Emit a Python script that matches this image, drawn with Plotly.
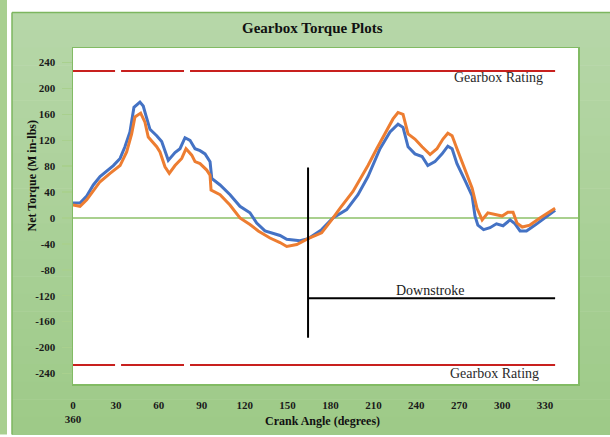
import plotly.graph_objects as go

# ---------------- data ----------------
blue_deg = [0, 4.9, 9.6, 14.2, 18.9, 23.6, 28.2, 32.9, 36.3, 39.8, 42.6, 46.8, 49.1, 51.0, 53.8, 58.5,
            62.0, 66.6, 71.3, 74.8, 78.3, 81.8, 85.3, 88.8, 92.3, 95.8, 97.0, 102.8, 109.8, 116.7,
            123.7, 128.4, 134.2, 144.7, 149.4, 158.7, 164.3, 173.8, 181.7, 191.3, 199.2, 206.2,
            214.6, 221.6, 227.2, 230.7, 234.2, 239, 244, 248, 253, 258, 262, 265, 268.4, 274, 279,
            281, 283, 287, 291.5, 296, 300.6, 305.5, 309, 312.5, 317, 323, 330, 337]
blue_val = [23, 23, 34, 51, 64, 72, 81, 92, 110, 133, 171, 179, 173, 158, 137, 127,
            118, 89, 101, 107, 124, 120, 107, 104, 99, 87, 61, 51, 36, 18,
            8, -8, -20, -27, -33, -35, -32, -18, 0, 13, 36, 64,
            107, 133, 145, 140, 110, 99, 95, 81, 87, 99, 111, 107, 84, 58, 34,
            3, -11, -18, -15, -9, -12, -3, -9, -20, -20, -11, 0, 12]

orange_deg = [0, 4.9, 9.6, 14.2, 18.9, 25.9, 32.9, 37.5, 41.0, 43.3, 47.3, 50.3, 52.6, 58.5, 60.8,
              64.3, 67.3, 71.3, 76.0, 79.0, 83.0, 85.3, 88.8, 93.5, 95.8, 96.5, 102.8, 109.7, 116.7,
              123.7, 129.5, 137.7, 144.7, 149.4, 156.4, 164.3, 173.8, 180.8, 186.6, 195.7, 206.2,
              212.3, 218, 223.7, 227.2, 230.7, 234.2, 239, 244, 249.6, 254.4, 258.6, 262, 265,
              268.4, 274, 279, 282.4, 286, 290, 295, 300, 304, 307.6, 310.4, 314, 319.4, 326.4, 337]
orange_val = [20, 18, 28, 41, 56, 69, 81, 102, 130, 156, 162, 148, 125, 110, 102,
              79, 69, 81, 92, 107, 97, 87, 84, 74, 66, 43, 36, 20, 0,
              -10, -20, -31, -38, -44, -41, -32, -23, -3, 15, 41, 81,
              107, 130, 153, 163, 160, 130, 122, 110, 98, 107, 122, 131, 127,
              107, 76, 46, 15, -3, 8, 6, 3, 9, 9, -8, -14, -11, 0, 15]

x_tick_vals = [0, 30, 60, 90, 120, 150, 180, 210, 240, 270, 300, 330]
x_tick_text = ["0<br>360", "30", "60", "90", "120", "150", "180", "210", "240", "270", "300", "330"]
y_tick_vals = [240, 200, 160, 120, 80, 40, 0, -40, -80, -120, -160, -200, -240]
y_tick_text = ["240", "200", "160", "120", "80", "40", "0", "-40", "-80", "-120", "-160", "-200", "-240"]

rating_value = 227
rating_deg = [0, 29.4, None, 33.6, 77.6, None, 81.8, 337]
downstroke_start = 164.3
downstroke_end = 337
downstroke_level = -124
downstroke_vert = [78, -185]

# ---------------- layout geometry ----------------
W, H = 610, 437
L, R, T, B = 73, 32, 48, 49
PW, PH = W - L - R, H - T - B
X_RANGE = [0, 353]
Y_RANGE = [-256.5, 262.6]


def pxx(px):
    return (px - L) / PW


def pxy(py):
    return (H - B - py) / PH


SERIF = "Liberation Serif, Times New Roman, serif"

fig = go.Figure()

fig.add_trace(go.Scatter(x=blue_deg, y=blue_val, mode="lines",
                         line=dict(color="#4472c4", width=3), showlegend=False, hoverinfo="skip"))
fig.add_trace(go.Scatter(x=orange_deg, y=orange_val, mode="lines",
                         line=dict(color="#ed7d31", width=3), showlegend=False, hoverinfo="skip"))

# gearbox rating lines
for sgn in (1, -1):
    fig.add_trace(go.Scatter(x=rating_deg, y=[None if d is None else sgn * rating_value for d in rating_deg],
                             mode="lines", line=dict(color="#c8201e", width=2),
                             showlegend=False, hoverinfo="skip", connectgaps=False))

# downstroke lines
fig.add_trace(go.Scatter(x=[downstroke_start, downstroke_start], y=downstroke_vert, mode="lines",
                         line=dict(color="black", width=2), showlegend=False, hoverinfo="skip"))
fig.add_trace(go.Scatter(x=[downstroke_start, downstroke_end], y=[downstroke_level, downstroke_level],
                         mode="lines", line=dict(color="black", width=2), showlegend=False, hoverinfo="skip"))

# ---------------- background shapes ----------------
shapes = []
# left strip
shapes.append(dict(type="rect", xref="paper", yref="paper", layer="below",
                   x0=pxx(0), x1=pxx(7), y0=pxy(H + 2), y1=pxy(-2),
                   fillcolor="#a8cf90", line=dict(width=0)))
# panel gradient bands
N = 24
top_c = (182, 215, 168)
bot_c = (158, 202, 136)
y_top, y_bot = 12, H + 2
for i in range(N):
    f = i / (N - 1)
    c = tuple(round(top_c[k] + (bot_c[k] - top_c[k]) * f) for k in range(3))
    a = y_top + (y_bot - y_top) * i / N
    b = y_top + (y_bot - y_top) * (i + 1) / N + 0.5
    shapes.append(dict(type="rect", xref="paper", yref="paper", layer="below",
                       x0=pxx(12), x1=pxx(W + 2), y0=pxy(b), y1=pxy(a),
                       fillcolor="rgb(%d,%d,%d)" % c, line=dict(width=0)))
# panel border (top & left)
shapes.append(dict(type="line", xref="paper", yref="paper", layer="below",
                   x0=pxx(12), x1=pxx(W + 2), y0=pxy(12), y1=pxy(12),
                   line=dict(color="#7db65f", width=1.5)))
shapes.append(dict(type="line", xref="paper", yref="paper", layer="below",
                   x0=pxx(12), x1=pxx(12), y0=pxy(12), y1=pxy(H + 2),
                   line=dict(color="#7db65f", width=1.5)))
# white plot area
shapes.append(dict(type="rect", xref="paper", yref="paper", layer="below",
                   x0=0, x1=1, y0=0, y1=1, fillcolor="white", line=dict(width=0)))
fig.update_layout(shapes=shapes)

# ---------------- annotations ----------------
ann = [
    dict(text="<b>Gearbox Torque Plots</b>", x=pxx(312), y=pxy(28), font=dict(size=15, family=SERIF, color="#111")),
    dict(text="<b>Net Torque (M in-lbs)</b>", x=pxx(32), y=pxy(178), textangle=-90,
         font=dict(size=12, family=SERIF, color="#111")),
    dict(text="<b>Crank Angle (degrees)</b>", x=pxx(322), y=pxy(425), font=dict(size=12, family=SERIF, color="#111")),
    dict(text="Gearbox Rating", x=pxx(498), y=pxy(78), font=dict(size=14, family=SERIF, color="#2a2a2a")),
    dict(text="Gearbox Rating", x=pxx(494), y=pxy(377), font=dict(size=14, family=SERIF, color="#2a2a2a")),
    dict(text="Downstroke", x=pxx(430), y=pxy(293), font=dict(size=14, family=SERIF, color="#1a1a1a")),
]
for a in ann:
    a.update(xref="paper", yref="paper", showarrow=False, xanchor="center", yanchor="middle")
fig.update_layout(annotations=ann)

tick_col = "#a9d08e"
frame_col = "#82bb64"

fig.update_layout(
    width=W, height=H,
    margin=dict(l=L, r=R, t=T, b=B),
    paper_bgcolor="white",
    plot_bgcolor="white",
    xaxis=dict(range=X_RANGE, tickvals=x_tick_vals, ticktext=x_tick_text, ticks="",
               showgrid=False, zeroline=False, showline=True, mirror=True,
               linecolor=frame_col, linewidth=1.5, ticklabelstandoff=10,
               tickfont=dict(family=SERIF, size=11, color="#1a1a1a", weight="bold")),
    yaxis=dict(range=Y_RANGE, tickvals=y_tick_vals, ticktext=y_tick_text, ticks="outside",
               ticklen=10, tickcolor=tick_col, tickwidth=1.5,
               showgrid=False, zeroline=True, zerolinecolor=tick_col, zerolinewidth=1.2,
               showline=True, mirror=True, linecolor=frame_col, linewidth=1.5, ticklabelstandoff=4,
               tickfont=dict(family=SERIF, size=11, color="#1a1a1a", weight="bold")),
    xaxis2=dict(overlaying="x", anchor="y", side="bottom", range=[0, PW / 40.3],
                tickvals=list(range(1, 13)), ticks="outside", ticklen=11, tickcolor=tick_col, tickwidth=1.5,
                showticklabels=False, showgrid=False, zeroline=False, showline=False),
    xaxis3=dict(overlaying="x", anchor="y", side="bottom", range=[0, PW / 40.3],
                tickvals=list(range(1, 13)), ticks="inside", ticklen=5, tickcolor=tick_col, tickwidth=1.5,
                showticklabels=False, showgrid=False, zeroline=False, showline=False),
    yaxis2=dict(overlaying="y", anchor="x", side="left", range=Y_RANGE, tickvals=y_tick_vals,
                ticks="inside", ticklen=9, tickcolor=tick_col, tickwidth=1.5,
                showticklabels=False, showgrid=False, zeroline=False, showline=False),
)

fig.write_html("out.html", config={"displayModeBar": False, "staticPlot": True},
               post_script="document.body.style.margin='0';document.body.style.overflow='hidden';")
